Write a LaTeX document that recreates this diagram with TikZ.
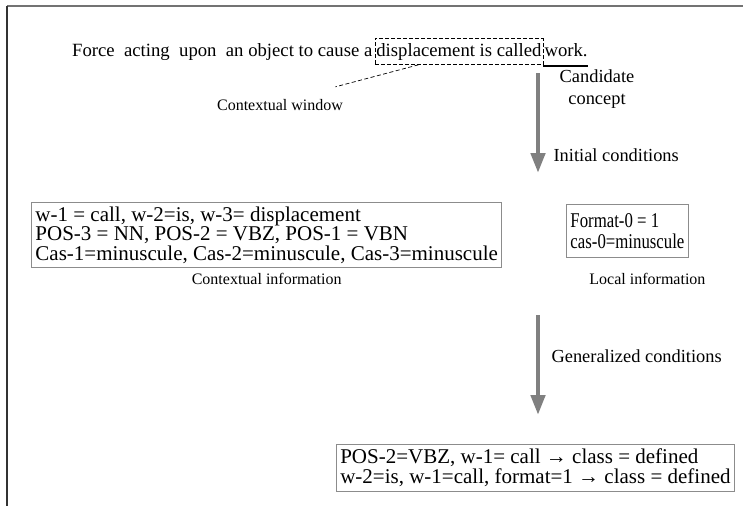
\documentclass[tikz,border=0pt]{standalone}
\usepackage{fontspec}
\setmainfont{Liberation Serif}
\usetikzlibrary{positioning,arrows.meta,calc}

\begin{document}
\begin{tikzpicture}[x=1pt, y=-1pt,
    sent/.style={inner sep=0pt, font=\fontsize{18.7}{22}\selectfont},
    window/.style={draw, dash pattern=on 4pt off 2pt, line width=0.7pt, inner xsep=1.5pt, inner ysep=4.5pt,
      font=\fontsize{18.7}{22}\selectfont},
    infobox/.style={draw=black!45, line width=0.9pt, align=left, inner xsep=4pt, inner ysep=4pt,
      font=\fontsize{21}{19.5}\selectfont},
    caption/.style={font=\fontsize{16}{18}\selectfont},
    flowlbl/.style={font=\fontsize{18.4}{22}\selectfont},
    flow/.style={draw=black!50, line width=4.5pt, -{Triangle[width=14pt,length=20pt]}}]

  \useasboundingbox (0,0) rectangle (743,506);
  \draw [black!55, line width=1.8pt] (7,6) -- (743,6);
  \draw [black!80, line width=1.5pt] (7,5.5) -- (7,506);

  \node [sent, anchor=base west] (lead) at (72,56) {Force\ \ acting\ \ upon\ \ an object to cause a};
  \node [window, anchor=base west] (win) at ([xshift=2pt]lead.base east) {displacement is called};
  \node [sent, anchor=base west] (cand) at ([xshift=1pt]win.base east) {work.};
  \coordinate (ul) at ([yshift=-1.2pt]win.south east);
  \draw [line width=2.4pt] (ul) -- (ul -| cand.east);

  \node [caption] (wlbl) at (280,105) {Contextual window};
  \draw [dash pattern=on 4pt off 2.5pt, line width=0.7pt] ($(win.south west)!0.26!(win.south east)$) -- ([xshift=-11pt, yshift=9pt]wlbl.north east);

  \node [flowlbl, align=center] (cc) at (597,89) {Candidate\\concept};

  \coordinate (a1) at (538,73);
  \coordinate (b1) at (538,173);
  \draw [flow] (a1) -- node [flowlbl, pos=0.82, right=10pt] (ic) {Initial conditions} (b1);

  \node [infobox, anchor=north west] (ctx) at (31,202) {w-1 = call, w-2=is, w-3= displacement\\POS-3 = NN, POS-2 = VBZ, POS-1 = VBN\\Cas-1=minuscule, Cas-2=minuscule, Cas-3=minuscule};
  \node [caption, below=2pt of ctx] (ctxcap) {Contextual information};

  \node [infobox, anchor=north west, inner ysep=9pt, font=\fontsize{21}{21}\selectfont\addfontfeature{FakeStretch=0.8}] (loc) at (566,204) {Format-0 = 1\\cas-0=minuscule};
  \node [caption] (loccap) at ([xshift=20pt]loc.south |- ctxcap) {Local information};

  \coordinate (a2) at (538,315);
  \coordinate (b2) at (538,415);
  \draw [flow] (a2) -- node [flowlbl, pos=0.41, right=8pt] (gc) {Generalized conditions} (b2);

  \node [infobox, anchor=south east, inner ysep=5pt] (rule) at (735,492) {POS-2=VBZ, w-1= call → class = defined\\w-2=is, w-1=call, format=1 → class = defined};
\end{tikzpicture}
\end{document}
